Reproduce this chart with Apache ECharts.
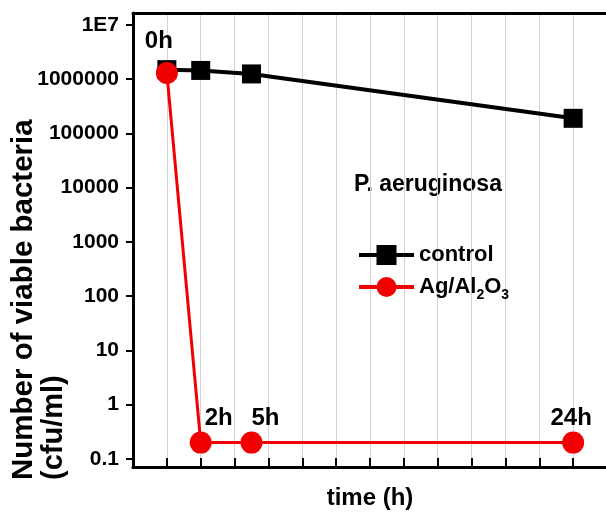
<!DOCTYPE html>
<html>
<head>
<meta charset="utf-8">
<script src="https://cdn.jsdelivr.net/npm/echarts@6/dist/echarts.min.js"></script>
<style>
  html, body { margin: 0; padding: 0; background: #fff; }
  #chart { width: 606px; height: 512px; }
</style>
</head>
<body>
<div id="chart"></div>
<script>
// time points (h)
const times = [0, 2, 5, 24]
// viable bacteria, cfu/ml
const control = [1.5e6, 1.45e6, 1.25e6, 1.9e5]
const agAl2O3 = [1.3e6, 0.2, 0.2, 0.2]
const yTicks = [0.1, 1, 10, 100, 1000, 10000, 100000, 1000000, 10000000]
const seriesNames = ['control', 'Ag/Al2O3']

const FONT = 'Liberation Sans, Arial, sans-serif'

// label offsets for the time tags on the red curve
const tagOffsets = [[-8, -5], [18, 3], [14, 3], [-2, 3]]

const chart = echarts.init(document.getElementById('chart'))

chart.setOption({
  backgroundColor: '#ffffff',
  animation: false,
  grid: {
    left: 133,
    top: 13,
    right: -1,
    bottom: 45,
    containLabel: false,
    outerBoundsMode: 'none'
  },
  xAxis: [
    {
      type: 'value',
      min: -2,
      max: 26,
      interval: 2,
      name: 'time (h)',
      nameLocation: 'middle',
      nameGap: 19,
      nameTextStyle: { fontFamily: FONT, fontSize: 24, fontWeight: 'bold', color: '#000' },
      axisLine: { onZero: false, lineStyle: { color: '#000', width: 3 } },
      axisTick: { inside: true, length: 9, lineStyle: { color: '#000', width: 2 } },
      axisLabel: { show: false },
      splitLine: { show: true, lineStyle: { color: '#d2d2d2', width: 1 } }
    },
    {
      type: 'value',
      position: 'top',
      min: -2,
      max: 26,
      axisLine: { show: true, onZero: false, lineStyle: { color: '#000', width: 3 } },
      axisTick: { show: false },
      axisLabel: { show: false },
      splitLine: { show: false }
    }
  ],
  yAxis: {
    type: 'log',
    logBase: 10,
    min: 0.071,
    max: 1.66e7,
    axisLine: { show: true, onZero: false, lineStyle: { color: '#000', width: 3 } },
    axisTick: { show: true, length: 7, customValues: yTicks, lineStyle: { color: '#000', width: 2 } },
    axisLabel: {
      customValues: yTicks,
      margin: 14,
      fontFamily: FONT,
      fontSize: 21,
      fontWeight: 'bold',
      color: '#000',
      formatter: v => v >= 1e7 ? '1E7' : String(+v.toPrecision(6))
    },
    splitLine: { show: false }
  },
  legend: {
    orient: 'vertical',
    left: 352,
    top: 239,
    itemWidth: 55,
    itemHeight: 25,
    itemGap: 10,
    data: seriesNames,
    lineStyle: { width: 4 },
    textStyle: {
      fontFamily: FONT,
      fontSize: 22,
      fontWeight: 'bold',
      color: '#000',
      rich: {
        sub: { fontFamily: FONT, fontSize: 14, fontWeight: 'bold', color: '#000', verticalAlign: 'bottom', padding: [16, 0, 0, 0] }
      }
    },
    formatter: name => name === 'Ag/Al2O3' ? 'Ag/Al{sub|2}O{sub|3}' : name
  },
  graphic: [
    {
      type: 'text',
      x: 24, y: 480,
      rotation: Math.PI / 2,
      style: { text: 'Number of viable bacteria', font: 'bold 29.5px ' + FONT, fill: '#000', align: 'left', verticalAlign: 'middle' }
    },
    {
      type: 'text',
      x: 54, y: 480,
      rotation: Math.PI / 2,
      style: { text: '(cfu/ml)', font: 'bold 29px ' + FONT, fill: '#000', align: 'left', verticalAlign: 'middle' }
    },
    {
      type: 'text',
      x: 428, y: 185,
      style: { text: 'P. aeruginosa', font: 'bold 23px ' + FONT, fill: '#000', align: 'center', verticalAlign: 'middle' }
    }
  ],
  series: [
    {
      name: seriesNames[0],
      type: 'line',
      data: times.map((t, i) => [t, control[i]]),
      symbol: 'rect',
      symbolSize: 19,
      itemStyle: { color: '#000' },
      lineStyle: { color: '#000', width: 4 },
      z: 2
    },
    {
      name: seriesNames[1],
      type: 'line',
      data: times.map((t, i) => ({
        value: [t, agAl2O3[i]],
        label: { offset: tagOffsets[i] }
      })),
      symbol: 'circle',
      symbolSize: 22,
      itemStyle: { color: '#f00000' },
      lineStyle: { color: '#f00000', width: 3 },
      label: {
        show: true,
        position: 'top',
        distance: 4,
        fontFamily: FONT,
        fontSize: 24,
        fontWeight: 'bold',
        color: '#000',
        formatter: p => p.value[0] + 'h'
      },
      z: 3
    }
  ]
})
</script>
</body>
</html>
